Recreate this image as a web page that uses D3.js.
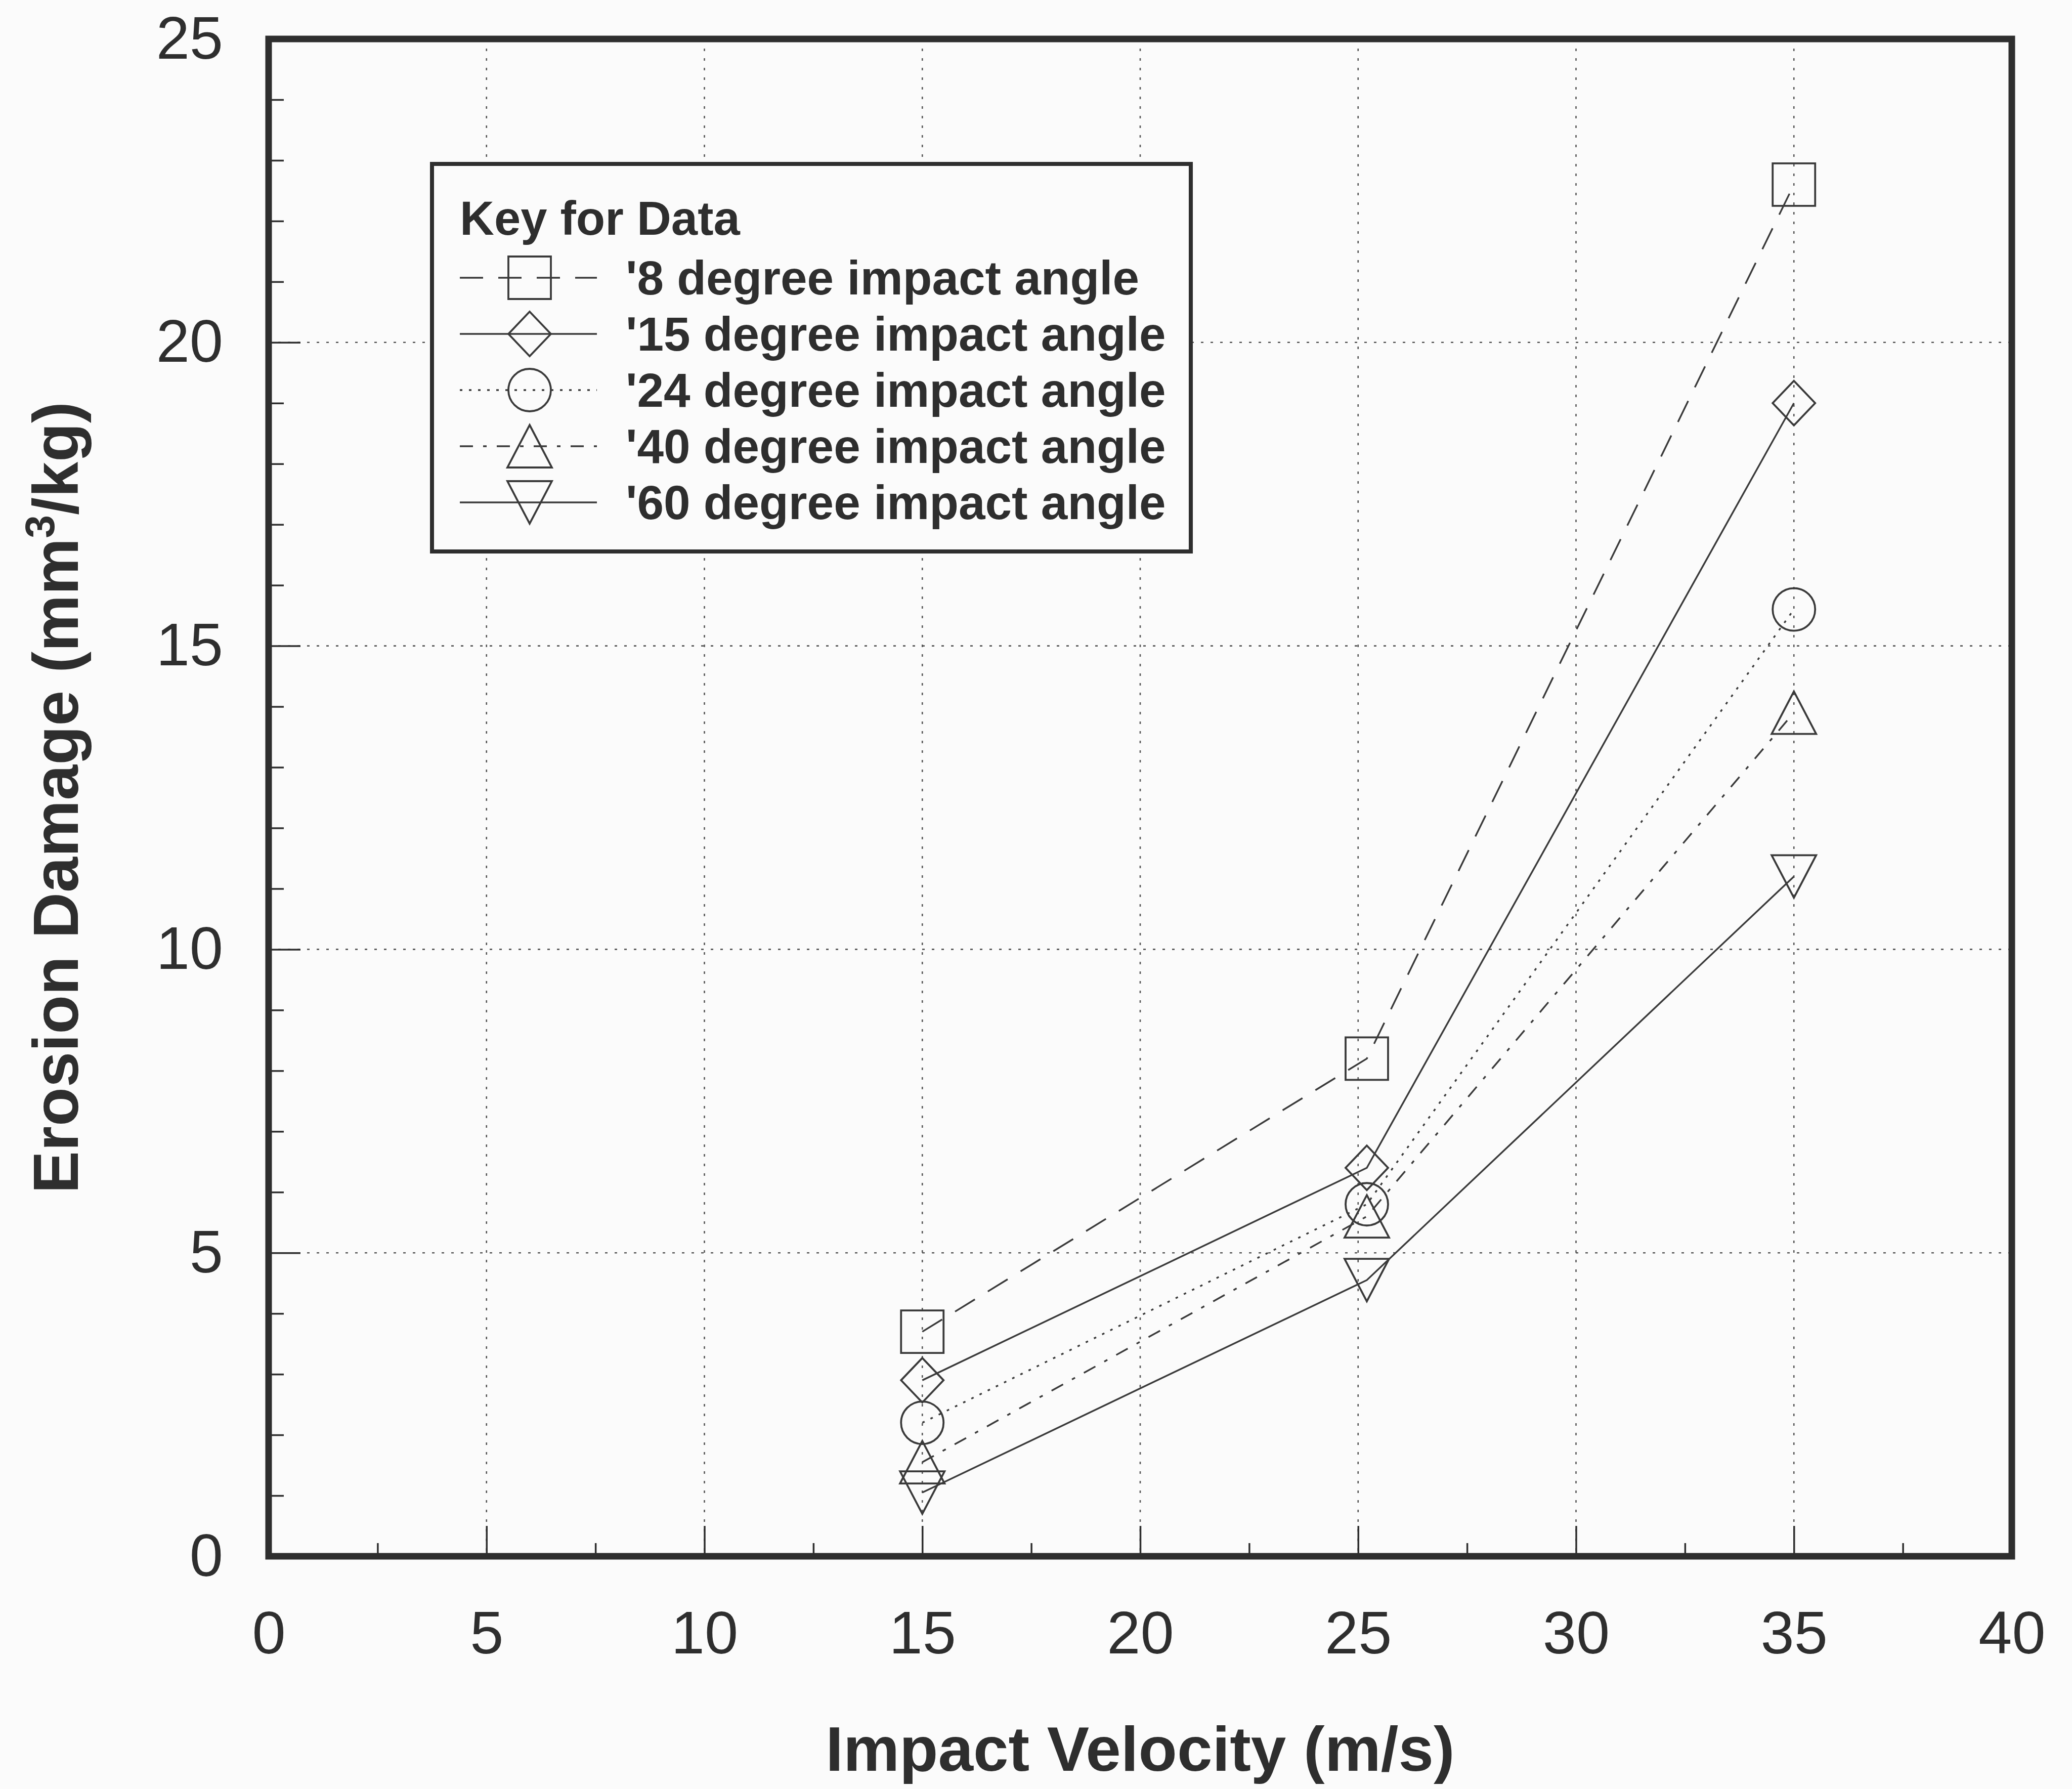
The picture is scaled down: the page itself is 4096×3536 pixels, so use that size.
<!DOCTYPE html>
<html>
<head>
<meta charset="utf-8">
<script src="https://cdn.jsdelivr.net/npm/d3@7"></script>
<style>
  html, body { margin: 0; padding: 0; background: #fbfbfb; }
  svg { display: block; }
  text { font-family: "Liberation Sans", Arial, Helvetica, sans-serif; fill: #2e2e2e; }
</style>
</head>
<body>
<svg id="chart" width="4096" height="3536"></svg>
<script>
// ---- data ----
const velocities = [15, 25.2, 35];           // impact velocity (m/s)
const angleLabels = ["'8 degree impact angle", "'15 degree impact angle", "'24 degree impact angle",
                     "'40 degree impact angle", "'60 degree impact angle"];
const damage8  = [3.7, 8.2, 22.6];            // erosion damage (mm3/kg)
const damage15 = [2.9, 6.4, 19.0];
const damage24 = [2.2, 5.8, 15.6];
const damage40 = [1.55, 5.6, 13.9];
const damage60 = [1.05, 4.55, 11.2];
const xTickValues = [0, 5, 10, 15, 20, 25, 30, 35, 40];
const xMinorTicks = [2.5, 7.5, 12.5, 17.5, 22.5, 27.5, 32.5, 37.5];
const yTickValues = [0, 5, 10, 15, 20, 25];
const yMinorTicks = d3.range(1, 25).filter(v => v % 5 !== 0);
const xGrid = [5, 10, 15, 20, 25, 30, 35];
const yGrid = [5, 10, 15, 20];

// ---- layout ----
const plot = { left: 531, right: 3977, top: 77, bottom: 3076 };
const ink = "#2e2e2e";
const lineInk = "#3a3a3a";

const svg = d3.select("#chart");
svg.append("rect").attr("width", 4096).attr("height", 3536).attr("fill", "#fbfbfb");

const x = d3.scaleLinear().domain([0, 40]).range([plot.left, plot.right]);
const y = d3.scaleLinear().domain([0, 25]).range([plot.bottom, plot.top]);

// marker shapes (open outlines)
const markerPaths = {
  square:  () => "M-42,-42H42V42H-42Z",
  diamond: () => "M0,-44L42,0L0,44L-42,0Z",
  circle:  () => "M42,0A42,42 0 1 1 -42,0A42,42 0 1 1 42,0Z",
  triUp:   () => "M0,-42L44,42L-44,42Z",
  triDown: () => "M-44,-42L44,-42L0,42Z"
};

const series = [
  { label: angleLabels[0], values: damage8,  marker: "square",  dash: "46,30" },
  { label: angleLabels[1], values: damage15, marker: "diamond", dash: null },
  { label: angleLabels[2], values: damage24, marker: "circle",  dash: "5,13" },
  { label: angleLabels[3], values: damage40, marker: "triUp",   dash: "26,20,7,20" },
  { label: angleLabels[4], values: damage60, marker: "triDown", dash: null }
];

// ---- dotted grid ----
const grid = svg.append("g").attr("stroke", "#555").attr("stroke-width", 2.6)
  .attr("stroke-dasharray", "5,14").attr("fill", "none");
grid.selectAll("line.gx").data(xGrid).join("line").attr("class", "gx")
  .attr("x1", d => x(d)).attr("x2", d => x(d)).attr("y1", plot.top).attr("y2", plot.bottom);
grid.selectAll("line.gy").data(yGrid).join("line").attr("class", "gy")
  .attr("y1", d => y(d)).attr("y2", d => y(d)).attr("x1", plot.left).attr("x2", plot.right);

// ---- axes (ticks point inward) ----
const xAxis = svg.append("g").attr("transform", `translate(0,${plot.bottom})`)
  .call(d3.axisBottom(x).tickValues(xTickValues).tickSizeInner(-60).tickSizeOuter(0).tickPadding(108)
    .tickFormat(d3.format("d")));
const xMinor = svg.append("g").attr("transform", `translate(0,${plot.bottom})`)
  .call(d3.axisBottom(x).tickValues(xMinorTicks).tickSizeInner(-26).tickSizeOuter(0).tickFormat(""));
const yAxis = svg.append("g").attr("transform", `translate(${plot.left},0)`)
  .call(d3.axisLeft(y).tickValues(yTickValues).tickSizeInner(-63).tickSizeOuter(0).tickPadding(90)
    .tickFormat(d3.format("d")));
const yMinor = svg.append("g").attr("transform", `translate(${plot.left},0)`)
  .call(d3.axisLeft(y).tickValues(yMinorTicks).tickSizeInner(-30).tickSizeOuter(0).tickFormat(""));

[xAxis, xMinor, yAxis, yMinor].forEach(g => {
  g.select(".domain").remove();
  g.selectAll(".tick line").attr("stroke", ink).attr("stroke-width", 3.5);
  g.selectAll(".tick text").attr("font-size", 119).attr("fill", "#333")
    .style("font-family", "'Liberation Sans', Arial, sans-serif");
});

// ---- plot frame ----
svg.append("rect")
  .attr("x", plot.left).attr("y", plot.top)
  .attr("width", plot.right - plot.left).attr("height", plot.bottom - plot.top)
  .attr("fill", "none").attr("stroke", ink).attr("stroke-width", 13);

// ---- data lines and markers ----
const line = d3.line().x(d => x(d[0])).y(d => y(d[1])).curve(d3.curveLinear);
const dataG = svg.append("g");
series.forEach(s => {
  const pts = velocities.map((v, i) => [v, s.values[i]]);
  dataG.append("path").datum(pts).attr("d", line)
    .attr("fill", "none").attr("stroke", lineInk).attr("stroke-width", 3.4)
    .attr("stroke-dasharray", s.dash);
  dataG.selectAll(null).data(pts).join("path")
    .attr("transform", d => `translate(${x(d[0])},${y(d[1])})`)
    .attr("d", markerPaths[s.marker]())
    .attr("fill", "none").attr("stroke", lineInk).attr("stroke-width", 3.8);
});

// ---- legend ----
const leg = svg.append("g");
leg.append("rect").attr("x", 854).attr("y", 324).attr("width", 1500).attr("height", 766)
  .attr("fill", "#fbfbfb").attr("stroke", ink).attr("stroke-width", 8);
leg.append("text").attr("x", 909).attr("y", 464).attr("font-size", 94).attr("font-weight", "bold")
  .text("Key for Data");
series.forEach((s, i) => {
  const cy = 549 + i * 111;
  leg.append("line").attr("x1", 909).attr("x2", 1180).attr("y1", cy).attr("y2", cy)
    .attr("stroke", lineInk).attr("stroke-width", 3.6).attr("stroke-dasharray", s.dash);
  leg.append("path").attr("transform", `translate(1047,${cy})`).attr("d", markerPaths[s.marker]())
    .attr("fill", "none").attr("stroke", lineInk).attr("stroke-width", 3.8);
  leg.append("text").attr("x", 1237).attr("y", cy + 33).attr("font-size", 94.5).attr("font-weight", "bold")
    .text(s.label);
});

// ---- axis titles ----
svg.append("text")
  .attr("x", (plot.left + plot.right) / 2).attr("y", 3500)
  .attr("text-anchor", "middle").attr("font-size", 125).attr("font-weight", "bold")
  .text("Impact Velocity (m/s)");

const yTitle = svg.append("text")
  .attr("transform", `translate(154,${(plot.top + plot.bottom) / 2}) rotate(-90)`)
  .attr("text-anchor", "middle").attr("font-size", 126).attr("font-weight", "bold");
yTitle.append("tspan").text("Erosion Damage (mm");
yTitle.append("tspan").attr("font-size", 82).attr("dy", -47).text("3");
yTitle.append("tspan").attr("dy", 47).text("/kg)");
</script>
</body>
</html>
